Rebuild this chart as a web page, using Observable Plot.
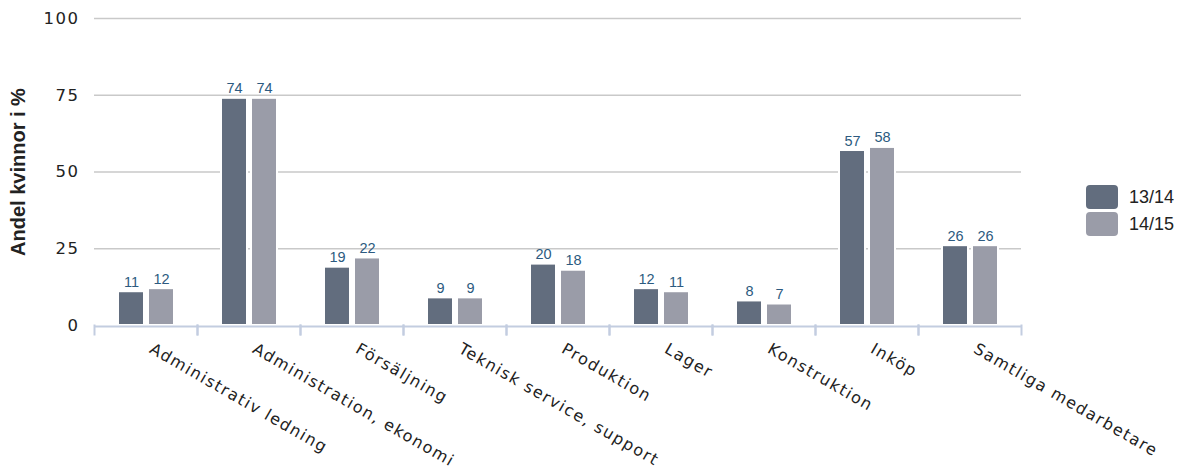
<!DOCTYPE html>
<html>
<head>
<meta charset="utf-8">
<script src="https://cdn.jsdelivr.net/npm/d3@7"></script>
<script src="https://cdn.jsdelivr.net/npm/@observablehq/plot@0.6"></script>
<style>
  body { margin: 0; background: #fff; }
  #wrap { position: relative; width: 1189px; height: 474px; }
  #chart svg { display: block; }
  [aria-label="y-axis tick label"] text { font-family: "DejaVu Sans", sans-serif; letter-spacing: 1.5px; fill: #222; }
  [aria-label="fx-axis tick label"] text { font-family: "DejaVu Sans", sans-serif; letter-spacing: 1.5px; fill: #222; }
  #legend { position: absolute; left: 1086px; top: 185px; font-family: "Liberation Sans", Arial, sans-serif; font-size: 18px; color: #222; }
  #legend .item { display: flex; align-items: center; height: 24px; margin-bottom: 3px; }
  #legend .sw { width: 32px; height: 24px; border-radius: 4px; margin-right: 11px; }
</style>
</head>
<body>
<div id="wrap">
  <div id="chart"></div>
  <div id="legend"></div>
</div>
<script>
const categories = [
  "Administrativ ledning",
  "Administration, ekonomi",
  "Försäljning",
  "Teknisk service, support",
  "Produktion",
  "Lager",
  "Konstruktion",
  "Inköp",
  "Samtliga medarbetare"
];
const series = ["13/14", "14/15"];
const values1314 = [11, 74, 19, 9, 20, 12, 8, 57, 26];
const values1415 = [12, 74, 22, 9, 18, 11, 7, 58, 26];
const yTicks = [0, 25, 50, 75, 100];
const yTitle = "Andel kvinnor i %";
const colors = ["#626d7e", "#9a9ca8"];

const data = [];
categories.forEach((c, i) => {
  data.push({cat: c, series: series[0], value: values1314[i]});
  data.push({cat: c, series: series[1], value: values1415[i]});
});

const chart = Plot.plot({
  width: 1189,
  height: 474,
  marginLeft: 92,
  marginRight: 166,
  marginTop: 18,
  marginBottom: 149,
  fx: {domain: categories, padding: 0, label: null},
  x: {domain: series, paddingInner: 0.133, paddingOuter: 0.775, axis: null},
  y: {domain: [0, 100], label: null},
  color: {domain: series, range: colors},
  marks: [
    Plot.gridY(yTicks.filter(d => d > 0), {stroke: "#c9c9c9", strokeOpacity: 1, strokeWidth: 1.6}),
    Plot.barY(data, {fx: "cat", x: "series", y: "value", fill: "series", stroke: "white", strokeWidth: 2, dx: 1}),
    Plot.text(data, {fx: "cat", x: "series", y: "value", text: d => String(d.value), lineAnchor: "bottom", dy: -5, dx: 1, fill: "#2c5a80", fontSize: 14.5, fontFamily: "Liberation Sans, Arial, sans-serif"}),
    Plot.ruleY([0], {stroke: "#c3cde0", strokeWidth: 2, dy: 1}),
    Plot.frame({anchor: "left", stroke: "#c3cde0", strokeWidth: 2, insetTop: 307, insetBottom: -9}),
    Plot.frame({anchor: "right", stroke: "#c3cde0", strokeWidth: 2, insetTop: 307, insetBottom: -9}),
    Plot.axisY({ticks: yTicks, tickSize: 0, tickPadding: 15, fontSize: 16.5, label: null}),
    Plot.text([yTitle], {fx: () => categories[0], text: d => d, frameAnchor: "left", rotate: -90, textAnchor: "middle", lineAnchor: "middle", dx: -76, fontSize: 20, fontWeight: "bold", fontFamily: "Liberation Sans, Arial, sans-serif", fill: "#222"}),
    Plot.axisFx({anchor: "bottom", tickRotate: 30, tickSize: 0, tickPadding: 22, dx: 5, fontSize: 16, label: null})
  ]
});
document.getElementById("chart").appendChild(chart);

const legend = document.getElementById("legend");
series.forEach((s, i) => {
  const item = document.createElement("div");
  item.className = "item";
  const sw = document.createElement("div");
  sw.className = "sw";
  sw.style.background = colors[i];
  const t = document.createElement("span");
  t.textContent = s;
  item.appendChild(sw);
  item.appendChild(t);
  legend.appendChild(item);
});
</script>
</body>
</html>
